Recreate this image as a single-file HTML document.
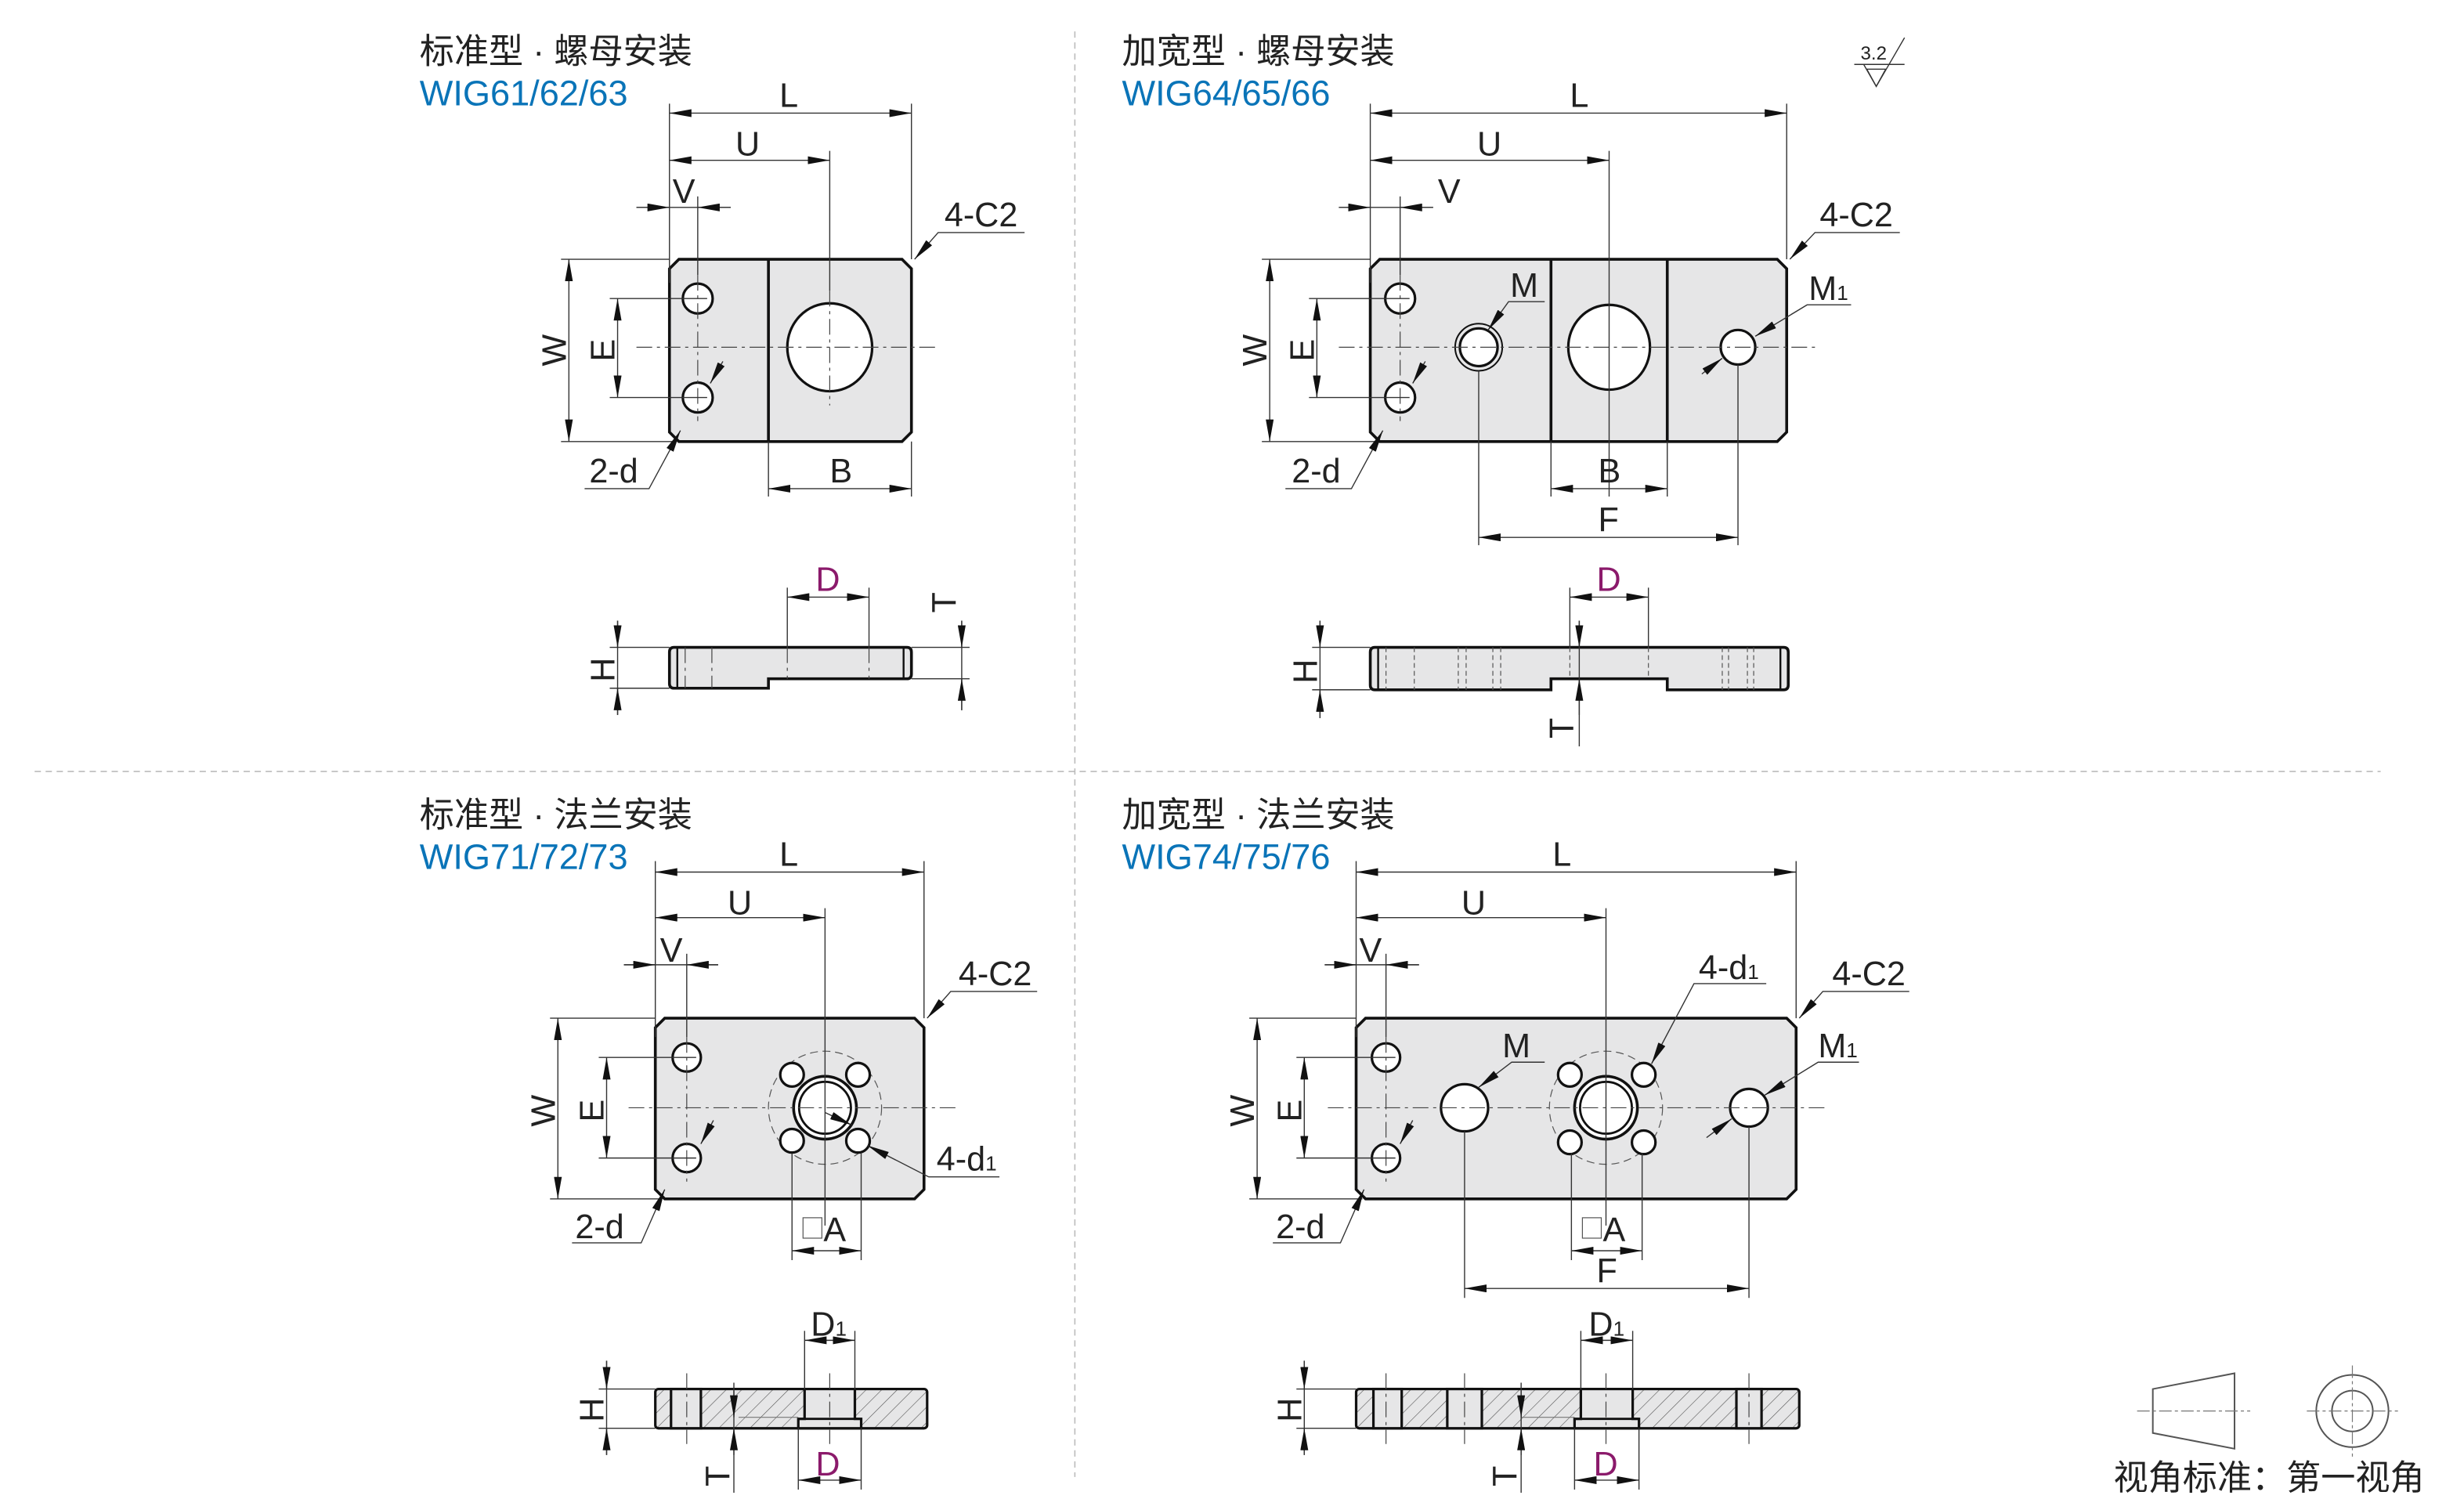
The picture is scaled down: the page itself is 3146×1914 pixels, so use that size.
<!DOCTYPE html>
<html><head><meta charset="utf-8"><style>
html,body{margin:0;padding:0;background:#fff}
svg{display:block}
text{font-family:"Liberation Sans","Noto Sans CJK SC",sans-serif;fill:#222}
.t{font-size:22px}
.b{fill:#0a74b8;font-size:22.5px}
.l{font-size:21.5px}
.p{fill:#8b1a6b}
.ol{stroke:#111;stroke-width:1.8;fill:#e6e6e7}
.ho{stroke:#111;stroke-width:1.6;fill:#fff}
.cl{stroke:#444;stroke-width:0.6;stroke-dasharray:10 3 2 3;fill:none}
.dm{stroke:#333;stroke-width:0.7;fill:none;marker-start:url(#a);marker-end:url(#a)}
.dn{stroke:#333;stroke-width:0.7;fill:none}
</style></head><body>
<svg width="3146" height="1914" viewBox="0 0 1568 954" xmlns="http://www.w3.org/2000/svg">
<defs>
<marker id="a" viewBox="0 0 14 5" refX="14" refY="2.5" markerWidth="14" markerHeight="5" markerUnits="userSpaceOnUse" orient="auto-start-reverse"><path d="M0,0 L14,2.5 L0,5 Z" fill="#111"/></marker>
<marker id="e" viewBox="0 0 14 5" refX="14" refY="2.5" markerWidth="14" markerHeight="5" markerUnits="userSpaceOnUse" orient="auto"><path d="M0,0 L14,2.5 L0,5 Z" fill="#111"/></marker>
<pattern id="h" patternUnits="userSpaceOnUse" width="7" height="7" patternTransform="rotate(45)"><rect width="7" height="7" fill="#e6e6e7"/><line x1="0" y1="0" x2="0" y2="7" stroke="#555" stroke-width="0.6"/></pattern>
</defs>

<line x1="22" y1="491" x2="1515" y2="491" stroke="#bbb" stroke-width="0.8" stroke-dasharray="4 3"/>
<line x1="684" y1="20" x2="684" y2="940" stroke="#bbb" stroke-width="0.8" stroke-dasharray="4 3"/>

<!-- ============ PANEL 1 ============ -->
<text class="t" x="267" y="40">标准型 · 螺母安装</text>
<text class="b" x="267" y="67">WIG61/62/63</text>
<path class="ol" d="M432,165 H574 L580,171 V275 L574,281 H432 L426,275 V171 Z"/>
<line x1="489" y1="165" x2="489" y2="281" stroke="#111" stroke-width="1.8"/>
<ellipse class="ho" cx="528" cy="221" rx="27" ry="28"/>
<circle class="ho" cx="444" cy="190" r="9.5"/>
<circle class="ho" cx="444" cy="253" r="9.5"/>
<line class="cl" x1="405" y1="221" x2="596" y2="221"/>
<line class="cl" x1="444" y1="175" x2="444" y2="268"/>
<line class="cl" x1="528" y1="185" x2="528" y2="258"/>
<line class="dn" x1="426" y1="66" x2="426" y2="180"/>
<line class="dn" x1="580" y1="66" x2="580" y2="165"/>
<line class="dm" x1="426" y1="72" x2="580" y2="72"/><text class="l" x="496" y="68">L</text>
<line class="dn" x1="528" y1="96" x2="528" y2="185"/>
<line class="dm" x1="426" y1="102" x2="528" y2="102"/><text class="l" x="468" y="99">U</text>
<line class="dn" x1="444" y1="125" x2="444" y2="175"/>
<line class="dn" x1="405" y1="132" x2="465" y2="132"/>
<line x1="405" y1="132" x2="426" y2="132" stroke="#333" stroke-width="0.7" marker-end="url(#e)"/>
<line x1="465" y1="132" x2="444" y2="132" stroke="#333" stroke-width="0.7" marker-end="url(#e)"/>
<text class="l" x="428" y="129">V</text>
<line class="dn" x1="357" y1="165" x2="426" y2="165"/>
<line class="dn" x1="357" y1="281" x2="430" y2="281"/>
<line class="dm" x1="362" y1="165" x2="362" y2="281"/>
<text class="l" transform="translate(360,233) rotate(-90)">W</text>
<line class="dn" x1="388" y1="190" x2="450" y2="190"/>
<line class="dn" x1="388" y1="253" x2="450" y2="253"/>
<line class="dm" x1="393" y1="190" x2="393" y2="253"/>
<text class="l" transform="translate(391,230) rotate(-90)">E</text>
<line class="dn" x1="489" y1="281" x2="489" y2="316"/>
<line class="dn" x1="580" y1="281" x2="580" y2="316"/>
<line class="dm" x1="489" y1="311" x2="580" y2="311"/><text class="l" x="528" y="307">B</text>
<polyline class="dn" points="652,148 597,148 582,165" marker-end="url(#e)"/><text class="l" x="601" y="144">4-C2</text>
<polyline class="dn" points="372,311 413,311 433,274" marker-end="url(#e)"/>
<line x1="460" y1="230" x2="452" y2="244" stroke="#333" stroke-width="0.7" marker-end="url(#e)"/>
<text class="l" x="375" y="307">2-d</text>
<path class="ol" d="M429,412 H577 Q580,412 580,415 V429 Q580,432 577,432 H489 V438 H429 Q426,438 426,435 V415 Q426,412 429,412 Z"/>
<line x1="431" y1="412" x2="431" y2="438" stroke="#111" stroke-width="1.2"/>
<line x1="575" y1="412" x2="575" y2="432" stroke="#111" stroke-width="1.2"/>
<line class="cl" x1="436" y1="412" x2="436" y2="438" stroke-dasharray="3 2"/>
<line class="cl" x1="453" y1="412" x2="453" y2="438" stroke-dasharray="3 2"/>
<line class="cl" x1="501" y1="412" x2="501" y2="432" stroke-dasharray="3 2"/>
<line class="cl" x1="553" y1="412" x2="553" y2="432" stroke-dasharray="3 2"/>
<line class="dn" x1="501" y1="374" x2="501" y2="412"/>
<line class="dn" x1="553" y1="374" x2="553" y2="412"/>
<line class="dm" x1="501" y1="380" x2="553" y2="380"/><text class="l p" x="519" y="376">D</text>
<line class="dn" x1="388" y1="412" x2="426" y2="412"/>
<line class="dn" x1="388" y1="438" x2="426" y2="438"/>
<line class="dn" x1="393" y1="395" x2="393" y2="455"/>
<line x1="393" y1="395" x2="393" y2="412" stroke="#333" stroke-width="0.7" marker-end="url(#e)"/>
<line x1="393" y1="455" x2="393" y2="438" stroke="#333" stroke-width="0.7" marker-end="url(#e)"/>
<text class="l" transform="translate(391,434) rotate(-90)">H</text>
<line class="dn" x1="580" y1="412" x2="617" y2="412"/>
<line class="dn" x1="580" y1="432" x2="617" y2="432"/>
<line class="dn" x1="612" y1="395" x2="612" y2="452"/>
<line x1="612" y1="395" x2="612" y2="412" stroke="#333" stroke-width="0.7" marker-end="url(#e)"/>
<line x1="612" y1="452" x2="612" y2="432" stroke="#333" stroke-width="0.7" marker-end="url(#e)"/>
<text class="l" transform="translate(608,390) rotate(-90)">T</text>

<!-- ============ PANEL 2 ============ -->
<text class="t" x="714" y="40">加宽型 · 螺母安装</text>
<text class="b" x="714" y="67">WIG64/65/66</text>
<text x="1184" y="38" style="font-size:12px">3.2</text>
<polyline points="1180,41 1212,41" class="dn"/>
<path d="M1186,41 L1194,55 L1212,24" class="dn" stroke-width="0.8"/>
<path d="M1188,44 L1200,44 L1194,55 Z" class="dn"/>
<path class="ol" d="M878,165 H1131 L1137,171 V275 L1131,281 H878 L872,275 V171 Z"/>
<line x1="987" y1="165" x2="987" y2="281" stroke="#111" stroke-width="1.8"/>
<line x1="1061" y1="165" x2="1061" y2="281" stroke="#111" stroke-width="1.8"/>
<circle class="ho" cx="891" cy="190" r="9.5"/>
<circle class="ho" cx="891" cy="253" r="9.5"/>
<circle cx="941" cy="221" r="15" fill="none" stroke="#111" stroke-width="1"/>
<circle class="ho" cx="941" cy="221" r="12"/>
<ellipse class="ho" cx="1024" cy="221" rx="26" ry="27"/>
<circle class="ho" cx="1106" cy="221" r="11"/>
<line class="cl" x1="852" y1="221" x2="1155" y2="221"/>
<line class="cl" x1="891" y1="175" x2="891" y2="268"/>
<line class="dn" x1="872" y1="66" x2="872" y2="180"/>
<line class="dn" x1="1137" y1="66" x2="1137" y2="165"/>
<line class="dm" x1="872" y1="72" x2="1137" y2="72"/><text class="l" x="999" y="68">L</text>
<line class="dn" x1="1024" y1="96" x2="1024" y2="316"/>
<line class="dm" x1="872" y1="102" x2="1024" y2="102"/><text class="l" x="940" y="99">U</text>
<line class="dn" x1="891" y1="125" x2="891" y2="175"/>
<line class="dn" x1="852" y1="132" x2="912" y2="132"/>
<line x1="852" y1="132" x2="872" y2="132" stroke="#333" stroke-width="0.7" marker-end="url(#e)"/>
<line x1="912" y1="132" x2="891" y2="132" stroke="#333" stroke-width="0.7" marker-end="url(#e)"/>
<text class="l" x="915" y="129">V</text>
<line class="dn" x1="803" y1="165" x2="872" y2="165"/>
<line class="dn" x1="803" y1="281" x2="876" y2="281"/>
<line class="dm" x1="808" y1="165" x2="808" y2="281"/>
<text class="l" transform="translate(806,233) rotate(-90)">W</text>
<line class="dn" x1="833" y1="190" x2="897" y2="190"/>
<line class="dn" x1="833" y1="253" x2="897" y2="253"/>
<line class="dm" x1="838" y1="190" x2="838" y2="253"/>
<text class="l" transform="translate(836,230) rotate(-90)">E</text>
<line class="dn" x1="987" y1="281" x2="987" y2="316"/>
<line class="dn" x1="1061" y1="281" x2="1061" y2="316"/>
<line class="dm" x1="987" y1="311" x2="1061" y2="311"/><text class="l" x="1017" y="307">B</text>
<line class="dn" x1="941" y1="236" x2="941" y2="347"/>
<line class="dn" x1="1106" y1="232" x2="1106" y2="347"/>
<line class="dm" x1="941" y1="342" x2="1106" y2="342"/><text class="l" x="1017" y="338">F</text>
<polyline class="dn" points="1209,148 1155,148 1139,165" marker-end="url(#e)"/><text class="l" x="1158" y="144">4-C2</text>
<polyline class="dn" points="983,192 960,192 947,210" marker-end="url(#e)"/><text class="l" x="961" y="189">M</text>
<polyline class="dn" points="1178,194 1150,194 1117,214" marker-end="url(#e)"/>
<line x1="1083" y1="238" x2="1096" y2="228" stroke="#333" stroke-width="0.7" marker-end="url(#e)"/>
<text class="l" x="1151" y="191">M<tspan style="font-size:13px">1</tspan></text>
<polyline class="dn" points="818,311 860,311 880,274" marker-end="url(#e)"/>
<line x1="907" y1="230" x2="899" y2="244" stroke="#333" stroke-width="0.7" marker-end="url(#e)"/>
<text class="l" x="822" y="307">2-d</text>
<path class="ol" d="M875,412 H1135 Q1138,412 1138,415 V436 Q1138,439 1135,439 H1061 V432 H987 V439 H875 Q872,439 872,436 V415 Q872,412 875,412 Z"/>
<line x1="877" y1="412" x2="877" y2="439" stroke="#111" stroke-width="1.2"/>
<line x1="1133" y1="412" x2="1133" y2="439" stroke="#111" stroke-width="1.2"/>
<g stroke="#555" stroke-width="0.6" stroke-dasharray="3 2">
<line x1="882" y1="412" x2="882" y2="439"/><line x1="900" y1="412" x2="900" y2="439"/>
<line x1="928" y1="412" x2="928" y2="439"/><line x1="933" y1="412" x2="933" y2="439"/>
<line x1="950" y1="412" x2="950" y2="439"/><line x1="955" y1="412" x2="955" y2="439"/>
<line x1="999" y1="412" x2="999" y2="432"/><line x1="1049" y1="412" x2="1049" y2="432"/>
<line x1="1096" y1="412" x2="1096" y2="439"/><line x1="1100" y1="412" x2="1100" y2="439"/>
<line x1="1112" y1="412" x2="1112" y2="439"/><line x1="1116" y1="412" x2="1116" y2="439"/>
</g>
<line class="dn" x1="999" y1="374" x2="999" y2="412"/>
<line class="dn" x1="1049" y1="374" x2="1049" y2="412"/>
<line class="dm" x1="999" y1="380" x2="1049" y2="380"/><text class="l p" x="1016" y="376">D</text>
<line class="dn" x1="835" y1="412" x2="872" y2="412"/>
<line class="dn" x1="835" y1="439" x2="872" y2="439"/>
<line class="dn" x1="840" y1="395" x2="840" y2="457"/>
<line x1="840" y1="395" x2="840" y2="412" stroke="#333" stroke-width="0.7" marker-end="url(#e)"/>
<line x1="840" y1="457" x2="840" y2="439" stroke="#333" stroke-width="0.7" marker-end="url(#e)"/>
<text class="l" transform="translate(838,435) rotate(-90)">H</text>
<line class="dn" x1="1005" y1="395" x2="1005" y2="475"/>
<line x1="1005" y1="395" x2="1005" y2="412" stroke="#333" stroke-width="0.7" marker-end="url(#e)"/>
<line x1="1005" y1="455" x2="1005" y2="432" stroke="#333" stroke-width="0.7" marker-end="url(#e)"/>
<text class="l" transform="translate(1001,470) rotate(-90)">T</text>

<!-- ============ PANEL 3 ============ -->
<text class="t" x="267" y="526">标准型 · 法兰安装</text>
<text class="b" x="267" y="553">WIG71/72/73</text>
<path class="ol" d="M423,648 H582 L588,654 V757 L582,763 H423 L417,757 V654 Z"/>
<circle class="ho" cx="437" cy="673" r="9"/>
<circle class="ho" cx="437" cy="737" r="9"/>
<circle cx="525" cy="705" r="36" fill="none" stroke="#555" stroke-width="0.6" stroke-dasharray="5 3"/>
<circle cx="525" cy="705" r="20" fill="#fff" stroke="#111" stroke-width="1.8"/>
<circle cx="525" cy="705" r="16.5" fill="#fff" stroke="#111" stroke-width="1.4"/>
<circle class="ho" cx="504" cy="684" r="7.5"/><circle class="ho" cx="546" cy="684" r="7.5"/>
<circle class="ho" cx="504" cy="726" r="7.5"/><circle class="ho" cx="546" cy="726" r="7.5"/>
<line class="cl" x1="400" y1="705" x2="608" y2="705"/>
<line class="cl" x1="437" y1="660" x2="437" y2="752"/>
<line class="dn" x1="417" y1="548" x2="417" y2="660"/>
<line class="dn" x1="588" y1="548" x2="588" y2="648"/>
<line class="dm" x1="417" y1="555" x2="588" y2="555"/><text class="l" x="496" y="551">L</text>
<line class="dn" x1="525" y1="578" x2="525" y2="780"/>
<line class="dm" x1="417" y1="584" x2="525" y2="584"/><text class="l" x="463" y="582">U</text>
<line class="dn" x1="437" y1="607" x2="437" y2="660"/>
<line class="dn" x1="397" y1="614" x2="457" y2="614"/>
<line x1="397" y1="614" x2="417" y2="614" stroke="#333" stroke-width="0.7" marker-end="url(#e)"/>
<line x1="457" y1="614" x2="437" y2="614" stroke="#333" stroke-width="0.7" marker-end="url(#e)"/>
<text class="l" x="420" y="612">V</text>
<line class="dn" x1="350" y1="648" x2="417" y2="648"/>
<line class="dn" x1="350" y1="763" x2="421" y2="763"/>
<line class="dm" x1="355" y1="648" x2="355" y2="763"/>
<text class="l" transform="translate(353,717) rotate(-90)">W</text>
<line class="dn" x1="381" y1="673" x2="443" y2="673"/>
<line class="dn" x1="381" y1="737" x2="443" y2="737"/>
<line class="dm" x1="386" y1="673" x2="386" y2="737"/>
<text class="l" transform="translate(384,714) rotate(-90)">E</text>
<line class="dn" x1="504" y1="734" x2="504" y2="802"/>
<line class="dn" x1="548" y1="734" x2="548" y2="802"/>
<line class="dm" x1="504" y1="796" x2="548" y2="796"/>
<rect x="511" y="775" width="12" height="13" fill="none" stroke="#555" stroke-width="0.6"/><text class="l" x="524" y="790">A</text>
<polyline class="dn" points="660,631 605,631 590,648" marker-end="url(#e)"/><text class="l" x="610" y="627">4-C2</text>
<polyline class="dn" points="636,749 591,749 552,729" marker-end="url(#e)"/>
<line x1="525" y1="708" x2="542" y2="716" stroke="#333" stroke-width="0.7" marker-end="url(#e)"/>
<text class="l" x="596" y="745">4-d<tspan style="font-size:13px">1</tspan></text>
<polyline class="dn" points="364,791 408,791 423,757" marker-end="url(#e)"/>
<line x1="454" y1="713" x2="446" y2="728" stroke="#333" stroke-width="0.7" marker-end="url(#e)"/>
<text class="l" x="366" y="788">2-d</text>
<rect x="417" y="884" width="173" height="25" rx="2" fill="url(#h)" stroke="#111" stroke-width="1.6"/>
<rect x="427" y="884" width="19" height="25" fill="#e6e6e7" stroke="#111" stroke-width="1.6"/>
<path d="M512,884 V903 H508 V909 H548 V903 H544 V884 Z" fill="#e6e6e7" stroke="#111" stroke-width="1.6"/>
<line x1="508" y1="903" x2="548" y2="903" stroke="#111" stroke-width="1.4"/>
<line x1="470" y1="902" x2="508" y2="902" stroke="#777" stroke-width="0.6"/>
<line class="cl" x1="437" y1="874" x2="437" y2="919"/>
<line class="cl" x1="528" y1="874" x2="528" y2="919"/>
<line class="dn" x1="512" y1="847" x2="512" y2="884"/>
<line class="dn" x1="544" y1="847" x2="544" y2="884"/>
<line class="dm" x1="512" y1="853" x2="544" y2="853"/><text class="l" x="516" y="850">D<tspan style="font-size:13px">1</tspan></text>
<line class="dn" x1="508" y1="909" x2="508" y2="948"/>
<line class="dn" x1="548" y1="909" x2="548" y2="948"/>
<line class="dm" x1="508" y1="942" x2="548" y2="942"/><text class="l p" x="519" y="939">D</text>
<line class="dn" x1="381" y1="884" x2="417" y2="884"/>
<line class="dn" x1="381" y1="909" x2="417" y2="909"/>
<line class="dn" x1="386" y1="866" x2="386" y2="926"/>
<line x1="386" y1="866" x2="386" y2="884" stroke="#333" stroke-width="0.7" marker-end="url(#e)"/>
<line x1="386" y1="926" x2="386" y2="909" stroke="#333" stroke-width="0.7" marker-end="url(#e)"/>
<text class="l" transform="translate(384,905) rotate(-90)">H</text>
<line class="dn" x1="467" y1="880" x2="467" y2="950"/>
<line x1="467" y1="885" x2="467" y2="902" stroke="#333" stroke-width="0.7" marker-end="url(#e)"/>
<line x1="467" y1="926" x2="467" y2="909" stroke="#333" stroke-width="0.7" marker-end="url(#e)"/>
<text class="l" transform="translate(464,946) rotate(-90)">T</text>

<!-- ============ PANEL 4 ============ -->
<text class="t" x="714" y="526">加宽型 · 法兰安装</text>
<text class="b" x="714" y="553">WIG74/75/76</text>
<path class="ol" d="M869,648 H1137 L1143,654 V757 L1137,763 H869 L863,757 V654 Z"/>
<circle class="ho" cx="882" cy="673" r="9"/>
<circle class="ho" cx="882" cy="737" r="9"/>
<circle class="ho" cx="932" cy="705" r="15"/>
<circle class="ho" cx="1113" cy="705" r="12"/>
<circle cx="1022" cy="705" r="36" fill="none" stroke="#555" stroke-width="0.6" stroke-dasharray="5 3"/>
<circle cx="1022" cy="705" r="20" fill="#fff" stroke="#111" stroke-width="1.8"/>
<circle cx="1022" cy="705" r="16.5" fill="#fff" stroke="#111" stroke-width="1.4"/>
<circle class="ho" cx="999" cy="684" r="7.5"/><circle class="ho" cx="1046" cy="684" r="7.5"/>
<circle class="ho" cx="999" cy="727" r="7.5"/><circle class="ho" cx="1046" cy="727" r="7.5"/>
<line class="cl" x1="845" y1="705" x2="1162" y2="705"/>
<line class="cl" x1="882" y1="660" x2="882" y2="752"/>
<line class="dn" x1="863" y1="548" x2="863" y2="660"/>
<line class="dn" x1="1143" y1="548" x2="1143" y2="648"/>
<line class="dm" x1="863" y1="555" x2="1143" y2="555"/><text class="l" x="988" y="551">L</text>
<line class="dn" x1="1022" y1="578" x2="1022" y2="780"/>
<line class="dm" x1="863" y1="584" x2="1022" y2="584"/><text class="l" x="930" y="582">U</text>
<line class="dn" x1="882" y1="607" x2="882" y2="660"/>
<line class="dn" x1="843" y1="614" x2="903" y2="614"/>
<line x1="843" y1="614" x2="863" y2="614" stroke="#333" stroke-width="0.7" marker-end="url(#e)"/>
<line x1="903" y1="614" x2="882" y2="614" stroke="#333" stroke-width="0.7" marker-end="url(#e)"/>
<text class="l" x="865" y="612">V</text>
<line class="dn" x1="795" y1="648" x2="863" y2="648"/>
<line class="dn" x1="795" y1="763" x2="867" y2="763"/>
<line class="dm" x1="800" y1="648" x2="800" y2="763"/>
<text class="l" transform="translate(798,717) rotate(-90)">W</text>
<line class="dn" x1="825" y1="673" x2="888" y2="673"/>
<line class="dn" x1="825" y1="737" x2="888" y2="737"/>
<line class="dm" x1="830" y1="673" x2="830" y2="737"/>
<text class="l" transform="translate(828,714) rotate(-90)">E</text>
<line class="dn" x1="1000" y1="734" x2="1000" y2="802"/>
<line class="dn" x1="1045" y1="734" x2="1045" y2="802"/>
<line class="dm" x1="1000" y1="796" x2="1045" y2="796"/>
<rect x="1007" y="775" width="12" height="13" fill="none" stroke="#555" stroke-width="0.6"/><text class="l" x="1020" y="790">A</text>
<line class="dn" x1="932" y1="720" x2="932" y2="826"/>
<line class="dn" x1="1113" y1="717" x2="1113" y2="826"/>
<line class="dm" x1="932" y1="820" x2="1113" y2="820"/><text class="l" x="1016" y="816">F</text>
<polyline class="dn" points="1215,631 1160,631 1145,648" marker-end="url(#e)"/><text class="l" x="1166" y="627">4-C2</text>
<polyline class="dn" points="1124,626 1078,626 1051,677" marker-end="url(#e)"/><text class="l" x="1081" y="623">4-d<tspan style="font-size:13px">1</tspan></text>
<polyline class="dn" points="983,676 962,676 941,692" marker-end="url(#e)"/><text class="l" x="956" y="673">M</text>
<polyline class="dn" points="1183,676 1157,676 1123,697" marker-end="url(#e)"/>
<line x1="1086" y1="724" x2="1102" y2="712" stroke="#333" stroke-width="0.7" marker-end="url(#e)"/>
<text class="l" x="1157" y="673">M<tspan style="font-size:13px">1</tspan></text>
<polyline class="dn" points="810,791 853,791 868,757" marker-end="url(#e)"/>
<line x1="899" y1="713" x2="891" y2="728" stroke="#333" stroke-width="0.7" marker-end="url(#e)"/>
<text class="l" x="812" y="788">2-d</text>
<rect x="863" y="884" width="282" height="25" rx="2" fill="url(#h)" stroke="#111" stroke-width="1.6"/>
<rect x="874" y="884" width="18" height="25" fill="#e6e6e7" stroke="#111" stroke-width="1.6"/>
<rect x="921" y="884" width="22" height="25" fill="#e6e6e7" stroke="#111" stroke-width="1.6"/>
<rect x="1105" y="884" width="16" height="25" fill="#e6e6e7" stroke="#111" stroke-width="1.6"/>
<path d="M1006,884 V903 H1002 V909 H1043 V903 H1039 V884 Z" fill="#e6e6e7" stroke="#111" stroke-width="1.6"/>
<line x1="1002" y1="903" x2="1043" y2="903" stroke="#111" stroke-width="1.4"/>
<line x1="968" y1="902" x2="1002" y2="902" stroke="#777" stroke-width="0.6"/>
<line class="cl" x1="882" y1="874" x2="882" y2="919"/>
<line class="cl" x1="932" y1="874" x2="932" y2="919"/>
<line class="cl" x1="1022" y1="874" x2="1022" y2="919"/>
<line class="cl" x1="1113" y1="874" x2="1113" y2="919"/>
<line class="dn" x1="1006" y1="847" x2="1006" y2="884"/>
<line class="dn" x1="1039" y1="847" x2="1039" y2="884"/>
<line class="dm" x1="1006" y1="853" x2="1039" y2="853"/><text class="l" x="1011" y="850">D<tspan style="font-size:13px">1</tspan></text>
<line class="dn" x1="1002" y1="909" x2="1002" y2="948"/>
<line class="dn" x1="1043" y1="909" x2="1043" y2="948"/>
<line class="dm" x1="1002" y1="942" x2="1043" y2="942"/><text class="l p" x="1014" y="939">D</text>
<line class="dn" x1="825" y1="884" x2="863" y2="884"/>
<line class="dn" x1="825" y1="909" x2="863" y2="909"/>
<line class="dn" x1="830" y1="866" x2="830" y2="926"/>
<line x1="830" y1="866" x2="830" y2="884" stroke="#333" stroke-width="0.7" marker-end="url(#e)"/>
<line x1="830" y1="926" x2="830" y2="909" stroke="#333" stroke-width="0.7" marker-end="url(#e)"/>
<text class="l" transform="translate(828,905) rotate(-90)">H</text>
<line class="dn" x1="968" y1="880" x2="968" y2="950"/>
<line x1="968" y1="885" x2="968" y2="902" stroke="#333" stroke-width="0.7" marker-end="url(#e)"/>
<line x1="968" y1="926" x2="968" y2="909" stroke="#333" stroke-width="0.7" marker-end="url(#e)"/>
<text class="l" transform="translate(965,946) rotate(-90)">T</text>

<path d="M1370,884 L1422,874 V922 L1370,912 Z" fill="none" stroke="#555" stroke-width="1"/>
<line x1="1360" y1="898" x2="1432" y2="898" stroke="#777" stroke-width="0.6" stroke-dasharray="8 2 2 2"/>
<circle cx="1497" cy="898" r="23" fill="none" stroke="#555" stroke-width="1"/>
<circle cx="1497" cy="898" r="13" fill="none" stroke="#555" stroke-width="1"/>
<line x1="1468" y1="898" x2="1526" y2="898" stroke="#777" stroke-width="0.6" stroke-dasharray="8 2 2 2"/>
<line x1="1497" y1="869" x2="1497" y2="927" stroke="#777" stroke-width="0.6" stroke-dasharray="8 2 2 2"/>
<text class="t" x="1345" y="948">视角标准：第一视角</text>
</svg>
</body></html>
